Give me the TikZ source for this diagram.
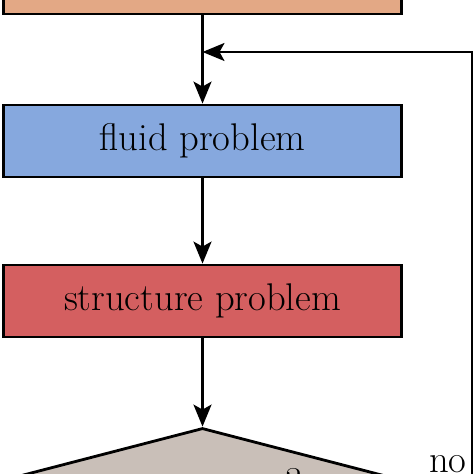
\documentclass[tikz,border=0pt]{standalone}
\usetikzlibrary{arrows.meta,shapes.geometric}

\definecolor{initcol}{RGB}{227,168,133}
\definecolor{fluidcol}{RGB}{134,168,222}
\definecolor{structcol}{RGB}{212,95,96}
\definecolor{convcol}{RGB}{201,191,184}

\begin{document}
\begin{tikzpicture}[x=0.5pt,y=-0.5pt,
  every node/.style={font=\fontsize{19.3}{23}\selectfont},
  box/.style={draw,line width=1.4pt,minimum width=199pt,minimum height=36pt,inner sep=0pt},
  test/.style={draw,line width=1.4pt,shape=diamond,aspect=3.83,minimum width=222pt,minimum height=58pt,inner sep=0pt},
  flow/.style={line width=1.2pt,-{Stealth[length=11pt,width=9pt,inset=2.5pt]}}]

\clip (0,0) rectangle (474,474);

\node(init) at (202.5,-22) [box,fill=initcol] {};
\node(fluid) at (202.5,141) [box,fill=fluidcol] {fluid problem};
\node(struct) at (202.5,301) [box,fill=structcol] {structure problem};
\node(conv) at (202.5,486) [test,fill=convcol] {convergence?};
\node(no) at (422,472) [anchor=base west] {no};

\coordinate(merge) at (202.5,52);
\coordinate(c1) at (472,486);
\coordinate(c2) at (472,52);

\draw[flow] (init.south) -- (fluid.north);
\draw[flow] (fluid.south) -- (struct.north);
\draw[flow] (struct.south) -- (conv.north);
\draw[flow] (conv.east) -- (c1) -- (c2) -- (merge);

\end{tikzpicture}
\end{document}
